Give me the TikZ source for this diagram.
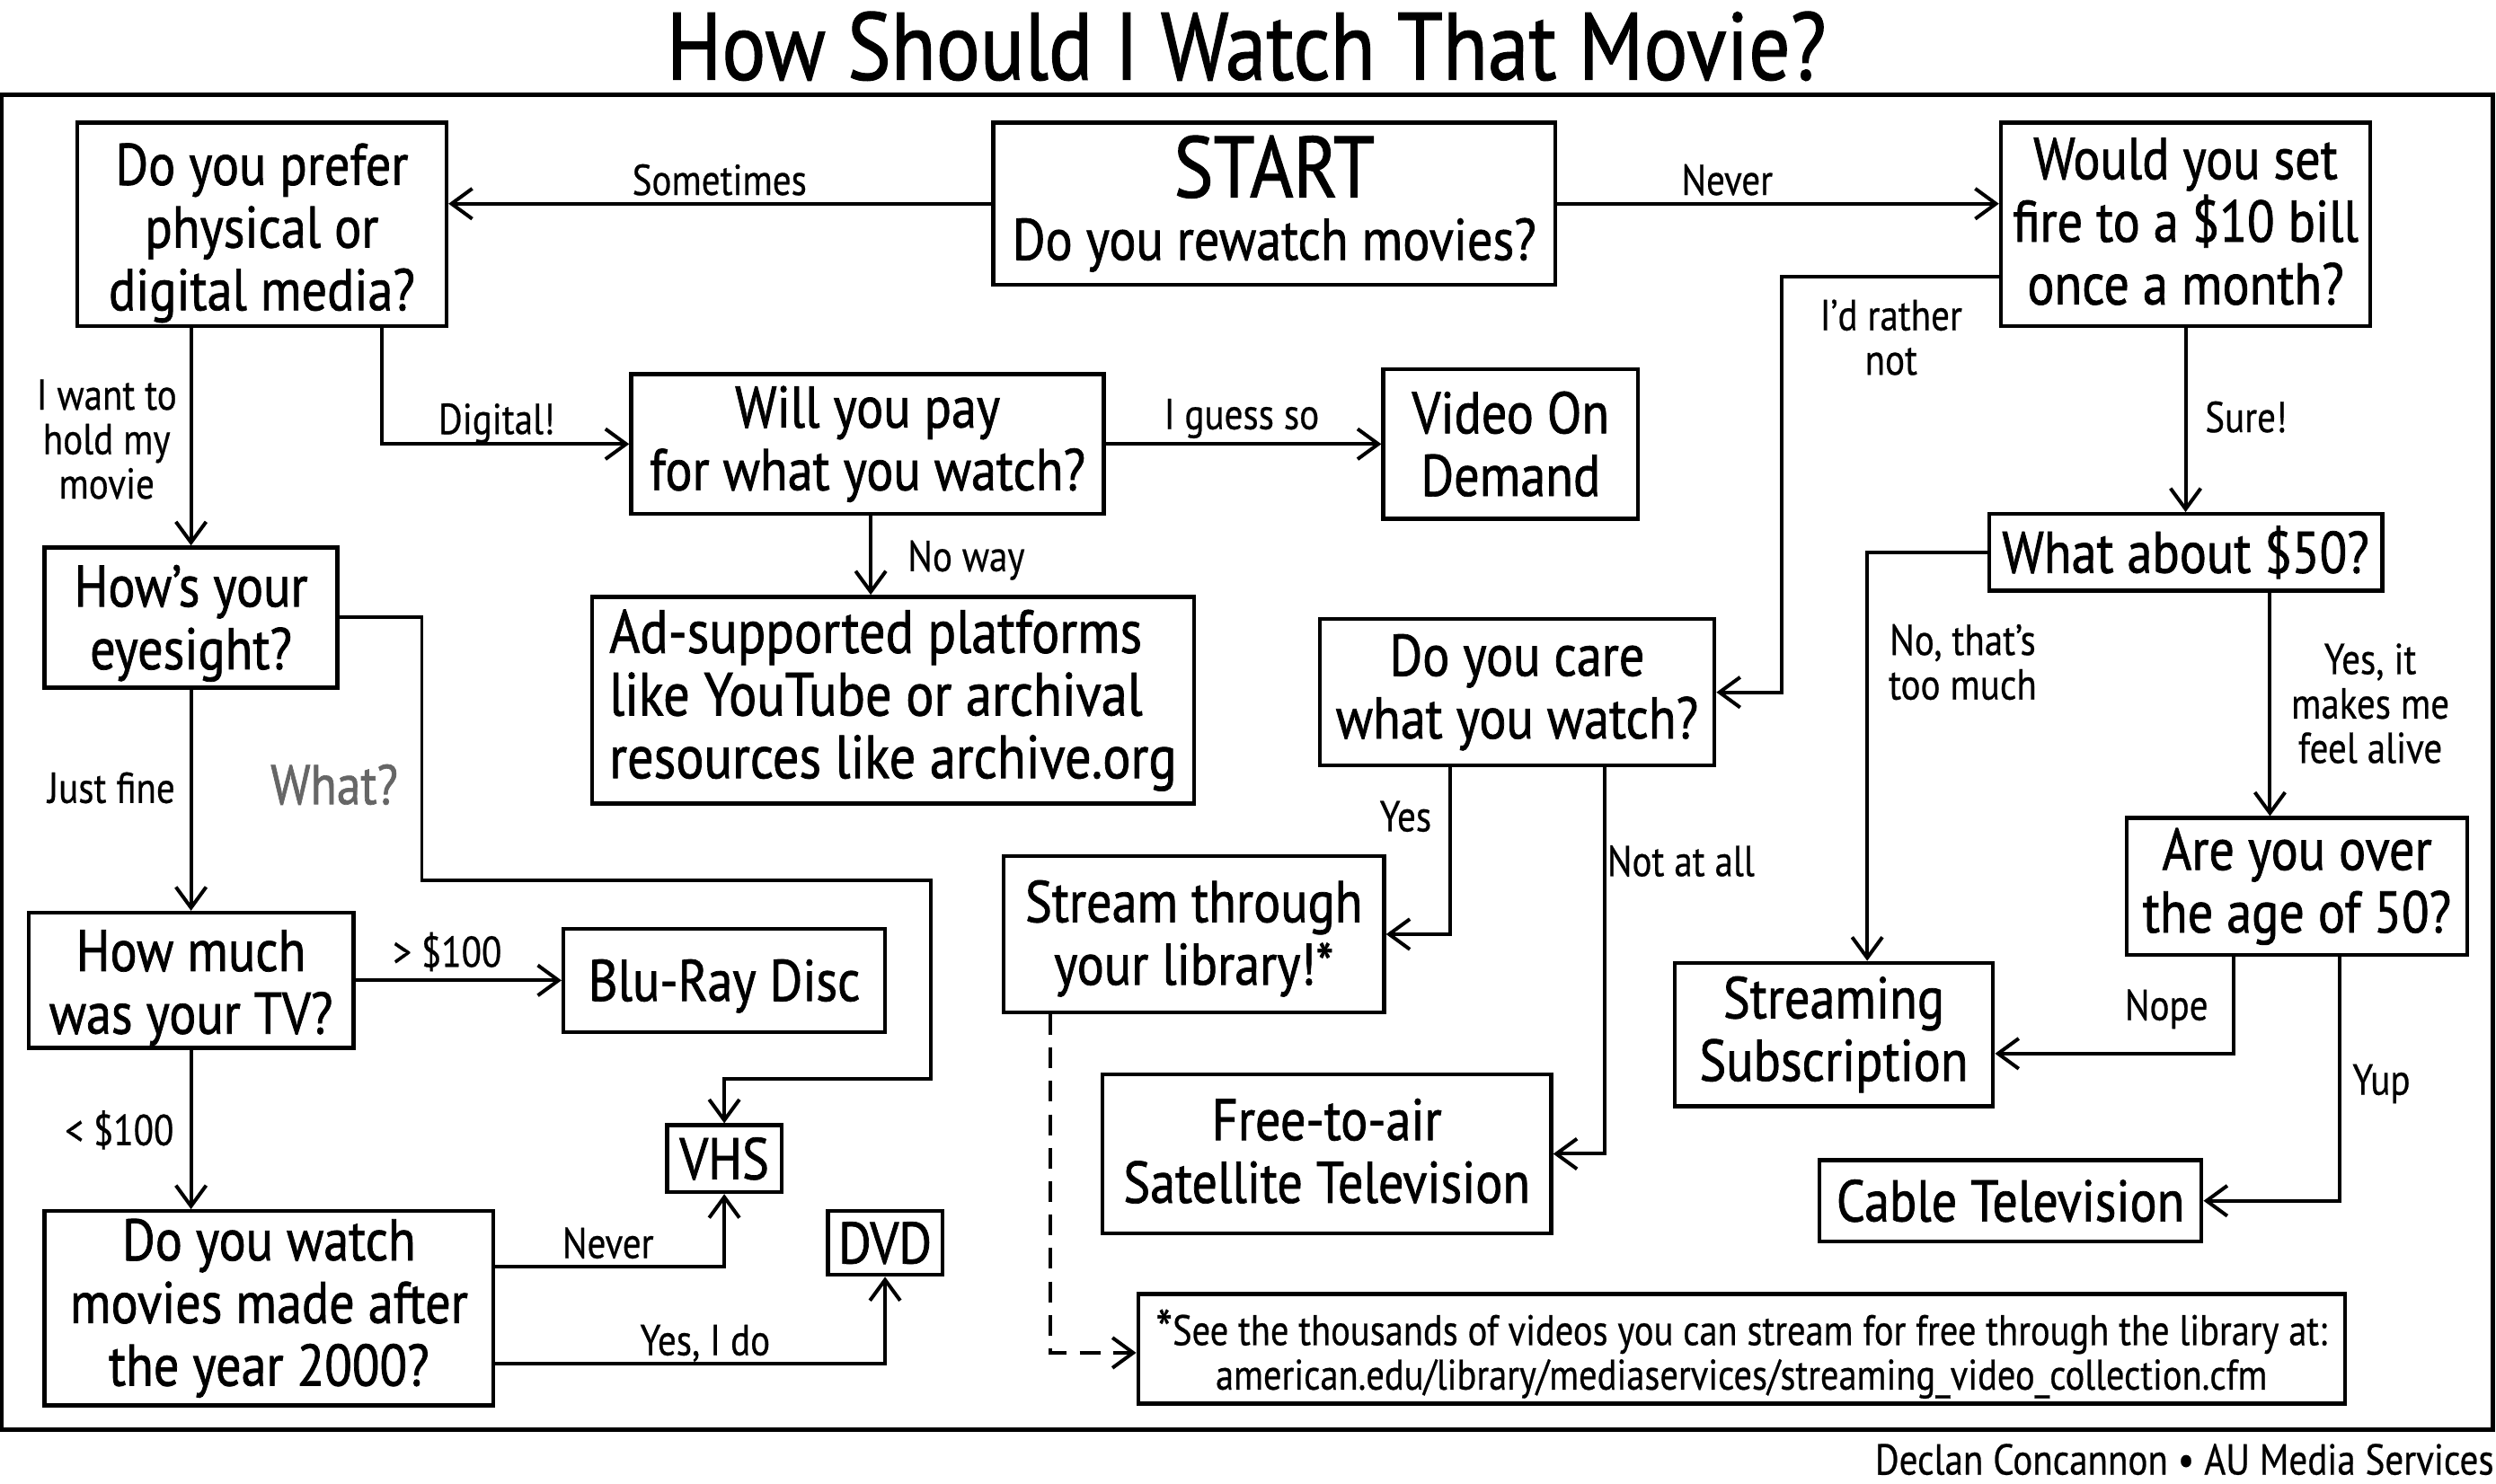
\documentclass[tikz,border=0pt]{standalone}
\usepackage{fontspec}
\setmainfont{PT Sans}
\newfontfamily\boxfont{PT Sans}[FakeStretch=0.86,FakeBold=1.1]
\newfontfamily\lblfont{PT Sans}[FakeStretch=0.85,FakeBold=0.5]
\newcommand{\txtdrop}[1]{\rule{0pt}{#1pt}}
\newcommand{\txtlift}[1]{\rule[-#1pt]{0pt}{0pt}}
\usepackage{tikz}
\usetikzlibrary{arrows.meta}
\tikzset{
  box/.style={draw,line width=0.5mm,align=center,font=\boxfont\fontsize{21}{22.4}\selectfont,inner sep=0pt},
  lbl/.style={align=center,font=\lblfont\fontsize{15.5}{15.9}\selectfont,inner sep=0pt},
  con/.style={line width=0.45mm,-{Straight Barb[length=2.6mm,width=3.8mm]}},
}
\begin{document}
\begin{tikzpicture}[x=0.2mm,y=-0.2mm]
\useasboundingbox (0,0) rectangle (1568,932);
\node[inner sep=0pt,font=\boxfont\fontsize{34.2}{40}\selectfont] (title) at (783,29) {How Should I Watch That Movie?};
\node[draw,line width=0.55mm,minimum width=313mm,minimum height=167.8mm,inner sep=0pt] (frame) at (783.5,479) {};
\node[lbl,anchor=east] (credit) at (1567,917) {Declan Concannon • AU Media Services};
\node[box,minimum width=70.6mm,minimum height=20.4mm] (start) at (800.5,128) {{\fontsize{31}{34}\selectfont START}\\Do you rewatch movies?};
\node[box,minimum width=46.4mm,minimum height=25.6mm] (media) at (164.5,141) {\txtdrop{21}Do you prefer\\physical or\\digital media?};
\node[box,minimum width=46.4mm,minimum height=25.6mm] (fire) at (1373,141) {Would you set\\fire to a \$10 bill\\once a month?\txtlift{2.3}};
\node[box,minimum width=59.4mm,minimum height=17.6mm] (pay) at (545,279) {Will you pay\\for what you watch?};
\node[box,minimum width=32mm,minimum height=18.8mm] (vod) at (949,279) {Video On\\Demand};
\node[box,minimum width=75.6mm,minimum height=26mm,align=left,font=\boxfont\fontsize{21.8}{22.4}\selectfont] (ads) at (561,440) {Ad-supported platforms\\like YouTube or archival\\resources like archive.org};
\node[box,minimum width=36.8mm,minimum height=17.6mm] (eyes) at (120,388) {\txtdrop{19}How’s your\\eyesight?};
\node[box,minimum width=40.8mm,minimum height=17mm] (tv) at (120,616) {\txtdrop{20}How much\\was your TV?};
\node[box,minimum width=40.4mm,minimum height=13mm] (bluray) at (455,616) {\txtdrop{19}Blu-Ray Disc};
\node[box,minimum width=14.4mm,minimum height=8.4mm] (vhs) at (455,728) {VHS};
\node[box,minimum width=14.4mm,minimum height=8mm] (dvd) at (556,781) {DVD};
\node[box,minimum width=56.4mm,minimum height=24.4mm] (year) at (169,822) {Do you watch\\movies made after\\the year 2000?};
\node[box,minimum width=49.6mm,minimum height=18.4mm] (care) at (953,435) {Do you care\\what you watch?};
\node[box,minimum width=47.8mm,minimum height=19.6mm] (library) at (750,587) {\txtdrop{18}Stream through\\your library!*};
\node[box,minimum width=56.4mm,minimum height=20mm] (sat) at (833.5,725) {Free-to-air\\Satellite Television\txtlift{2.3}};
\node[box,minimum width=40mm,minimum height=18mm] (sub) at (1152,650) {Streaming\\Subscription};
\node[box,minimum width=49.4mm,minimum height=9.6mm] (fifty) at (1373,347) {What about \$50?};
\node[box,minimum width=42.8mm,minimum height=17.2mm] (over) at (1443,557) {Are you over\\the age of 50?};
\node[box,minimum width=48mm,minimum height=10.2mm] (cable) at (1263,754.5) {Cable Television};
\node[box,minimum width=151.6mm,minimum height=13.8mm,font=\lblfont\fontsize{15.3}{15.9}\selectfont] (note) at (1094,847.5) {\txtdrop{16.5}\smash{\fontsize{20}{15.9}\selectfont\raisebox{-1.5pt}{*}}See the thousands of videos you can stream for free through the library at:\\american.edu/library/mediaservices/streaming\_video\_collection.cfm};
\node[lbl] (lsometimes) at (452,113) {Sometimes};
\node[lbl] (lnever) at (1085,113) {Never};
\node[lbl] (lrather) at (1188,212) {I’d rather\\not};
\node[lbl] (lsure) at (1411,262) {Sure!};
\node[lbl] (lhold) at (67,276) {I want to\\hold my\\movie};
\node[lbl] (ldigital) at (312,266) {Digital!};
\node[lbl] (lguess) at (780,263) {I guess so};
\node[lbl] (lnoway) at (607,352) {No way};
\node[lbl] (lfine) at (70,495) {Just fine};
\node[lbl,text=black!60,font=\boxfont\fontsize{20}{20}\selectfont] (lwhat) at (210,493) {What?};
\node[lbl] (lover) at (281,598) {> \$100};
\node[lbl] (lunder) at (75,710) {< \$100};
\node[lbl] (lneverb) at (382,781) {Never};
\node[lbl] (lyesdo) at (443,844) {Yes, I do};
\node[lbl] (lmuch) at (1233,416) {No, that’s\\too much};
\node[lbl] (lalive) at (1489,442) {Yes, it\\makes me\\feel alive};
\node[lbl] (lyes) at (883,513) {Yes};
\node[lbl] (lnotall) at (1056,541) {Not at all};
\node[lbl] (lnope) at (1361,634) {Nope};
\node[lbl] (lyup) at (1496,681) {Yup};
\coordinate (fireturn) at (1119,174);
\coordinate (whatA) at (265,553);
\coordinate (whatB) at (585,678);
\draw[con] (start.west) -- (start.west -| media.east);
\draw[con] (start.east) -- (start.east -| fire.west);
\draw[con] (eyes.north |- media.south) -- (eyes.north);
\draw[con] ([xshift=15.1mm]media.south) |- (pay.west);
\draw[con] (pay.east) -- (vod.west);
\draw[con] ([xshift=0.4mm]pay.south) -- ([xshift=0.4mm]pay.south |- ads.north);
\draw[con] (fire.west |- fireturn) -- (fireturn) |- (care.east);
\draw[con] (fire.south) -- (fifty.north);
\draw[con] (fifty.west) -| ([xshift=4.2mm]sub.north);
\draw[con] ([xshift=-3.4mm]over.north |- fifty.south) -- ([xshift=-3.4mm]over.north);
\draw[con] ([xshift=-8mm]over.south) |- ([yshift=-2.4mm]sub.east);
\draw[con] ([xshift=5.4mm]over.south) |- (cable.east);
\draw[con] ([xshift=-8.4mm]care.south) |- (library.east);
\draw[con] ([xshift=11mm]care.south) |- (sat.east);
\draw[con,dash pattern=on 2.6mm off 1.6mm] ([xshift=-18mm]library.south) |- ([yshift=-0.5mm]note.west);
\draw[con] (eyes.south) -- (eyes.south |- tv.north);
\draw[con] (eyes.east) -| (whatA) -| (whatB) -| (vhs.north);
\draw[con] (tv.east) -- (bluray.west);
\draw[con] (tv.south) -- (tv.south |- year.north);
\draw[con] ([yshift=5.2mm]year.east) -| (vhs.south);
\draw[con] ([yshift=-7mm]year.east) -| (dvd.south);
\end{tikzpicture}
\end{document}
